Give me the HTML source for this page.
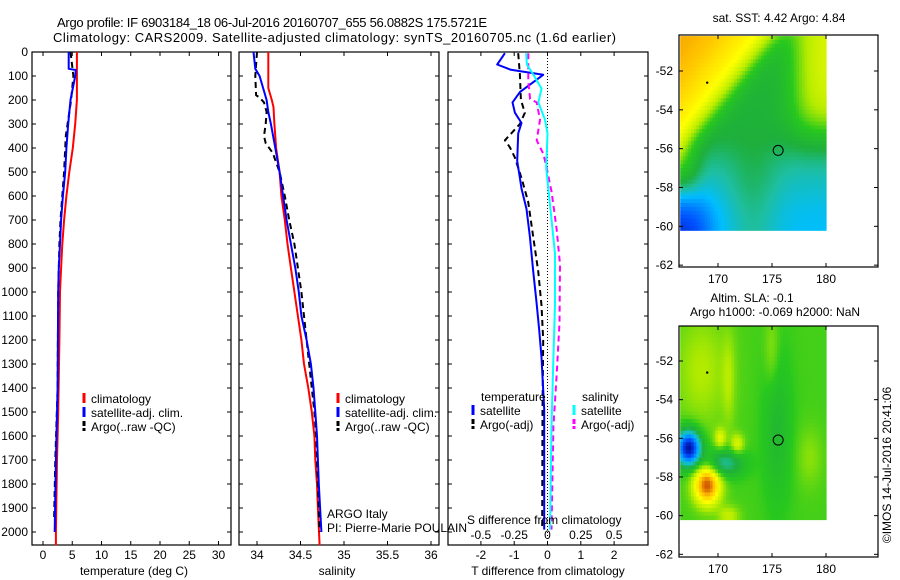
<!DOCTYPE html>
<html><head><meta charset="utf-8"><style>
html,body{margin:0;padding:0;background:#fff;}
svg{display:block;font-family:"Liberation Sans",sans-serif;}
</style></head><body>
<svg id="fig" width="900" height="580" viewBox="0 0 900 580">
<text x="57" y="27" font-size="13" textLength="430">Argo profile: IF 6903184_18 06-Jul-2016 20160707_655 56.0882S 175.5721E</text>
<text x="53" y="42" font-size="13" textLength="563">Climatology: CARS2009. Satellite-adjusted climatology: synTS_20160705.nc (1.6d earlier)</text>
<g id="p1"></g>
<g id="p2"></g>
<g id="p3"></g>
<g id="m1"></g>
<g id="m2"></g>
<text transform="translate(891,465) rotate(-90)" text-anchor="middle" font-size="12">©IMOS 14-Jul-2016 20:41:06</text>
</svg>
<script>
// ---- data ----
const depthTicks=[0,100,200,300,400,500,600,700,800,900,1000,1100,1200,1300,1400,1500,1600,1700,1800,1900,2000];
const tempTicks=[0,5,10,15,20,25,30];
const salTicks=[34,34.5,35,35.5,36];
const salTickLabels=["34","34.5","35","35.5","36"];
const tdiffTicks=[-2,-1,0,1,2];
const sdiffTicks=[-0.5,-0.25,0,0.25,0.5];
const sdiffTickLabels=["-0.5","-0.25","0","0.25","0.5"];
const tempClimDepth=[0,200,300,400,500,600,700,800,900,1000,1200,1500,1700,2000,2055];
const tempClim=[5.8,5.8,5.5,5.1,4.5,4.0,3.6,3.3,3.1,2.9,2.8,2.6,2.4,2.2,2.2];
const tempSatDepth=[0,70,75,100,200,300,400,500,600,700,800,900,1000,1400,1700,2000];
const tempSat=[4.4,4.4,5.6,5.5,4.7,4.3,4.0,3.8,3.4,3.1,2.9,2.7,2.6,2.5,2.2,2.0];
const tempArgoDepth=[0,100,200,350,500,600,700,800,900,1000,1400,1700,1950];
const tempArgo=[4.7,5.2,4.8,3.9,3.6,3.3,3.0,2.8,2.7,2.6,2.5,2.1,1.9];
const salClimDepth=[0,150,200,230,300,400,500,600,700,800,900,1000,1100,1200,1300,1400,1500,1600,1700,1800,1900,2055];
const salClim=[34.13,34.13,34.17,34.19,34.2,34.22,34.26,34.28,34.32,34.35,34.39,34.43,34.47,34.51,34.54,34.59,34.63,34.66,34.67,34.69,34.70,34.72];
const salSatDepth=[0,70,100,150,200,250,300,400,500,600,700,800,900,1000,1100,1200,1300,1400,1500,1600,1800,2000];
const salSat=[33.96,33.98,34.03,34.07,34.11,34.13,34.16,34.21,34.26,34.30,34.34,34.39,34.44,34.48,34.51,34.57,34.62,34.65,34.67,34.69,34.71,34.74];
const salArgoDepth=[0,100,180,190,210,250,300,350,380,420,500,600,700,800,900,1000,1100,1200,1300,1400,1500,1600,1800,2000];
const salArgo=[34.0,33.98,33.99,34.03,34.08,34.11,34.1,34.08,34.1,34.18,34.26,34.32,34.37,34.43,34.47,34.51,34.54,34.57,34.60,34.63,34.66,34.68,34.70,34.72];
const tdSatDepth=[5,52,74,95,167,210,253,296,339,454,525,569,654,770,913,1042,1158,1273,1488,1990];
const tdSat=[-1.28,-1.51,-1.1,-0.13,-0.83,-1.05,-0.98,-0.78,-0.88,-0.91,-0.83,-0.78,-0.63,-0.53,-0.43,-0.33,-0.25,-0.18,-0.1,-0.1];
const tdArgoDepth=[5,95,200,253,300,368,397,440,525,625,770,913,1056,1200,1500,1990];
const tdArgo=[-0.88,-0.83,-0.8,-0.68,-0.83,-1.28,-1.13,-0.98,-0.78,-0.58,-0.43,-0.28,-0.18,-0.13,-0.15,-0.16];
const sdSatDepth=[5,52,95,153,210,282,339,483,697,840,1056,1273,1560,1990];
const sdSat=[-0.16,-0.155,-0.106,-0.044,-0.069,-0.019,0,-0.01,0.03,0.056,0.056,0.044,0.03,0.019];
const sdArgoDepth=[5,124,196,210,282,368,425,483,583,741,885,1128,1343,1560,1990];
const sdArgo=[-0.144,-0.144,-0.131,-0.081,-0.056,-0.081,-0.031,-0.006,0.031,0.069,0.094,0.09,0.069,0.044,0.03];
const lonTicks=[170,175,180];
const latTicks=[-52,-54,-56,-58,-60,-62];
const argoLon=175.57, argoLat=-56.09;

const NS="http://www.w3.org/2000/svg";
function mk(parent,tag,attrs){const e=document.createElementNS(NS,tag);for(const k in attrs)e.setAttribute(k,attrs[k]);parent.appendChild(e);return e;}
const Y0=52,Y1=545;
const yD=d=>Y0+0.24*d;
const xT=t=>43+5.85*t;
const xS=s=>257+87*(s-34);
const xTD=t=>547.5+33.3*t;
const xSD=s=>547.5+133.2*s;

function frame(g,x0,x1,y0,y1,name){
  const r=mk(g,'rect',{x:x0,y:y0,width:x1-x0,height:y1-y0,fill:'none',stroke:'#000','stroke-width':1.2});
  
  
}
function line(g,xs,ds,xf,col,dash,name,w){
  const pts=xs.map((v,i)=>xf(v).toFixed(1)+','+yD(ds[i]).toFixed(1)).join(' ');
  const p=mk(g,'polyline',{points:pts,fill:'none',stroke:col,'stroke-width':w||2,'stroke-dasharray':dash||'none','stroke-linejoin':'round'});
  
  
}
function xticks(g,vals,labels,xf,x0,x1,ly,name){
  vals.forEach((v,i)=>{const x=xf(v);
    mk(g,'line',{x1:x,x2:x,y1:Y1,y2:Y1-4,stroke:'#000'});
    mk(g,'line',{x1:x,x2:x,y1:Y0,y2:Y0+4,stroke:'#000'});
    if(ly){const t=mk(g,'text',{x:x,y:ly,'font-size':12,'text-anchor':'middle'});t.textContent=labels[i];
      
      }
  });
}
function yticks(g,x0,x1,labels){
  depthTicks.forEach(d=>{const y=yD(d);
    mk(g,'line',{x1:x0,x2:x0+4,y1:y,y2:y,stroke:'#000'});
    mk(g,'line',{x1:x1,x2:x1-4,y1:y,y2:y,stroke:'#000'});
    if(labels){const t=mk(g,'text',{x:28,y:y+4,'font-size':12,'text-anchor':'end'});t.textContent=d;
      
      }
  });
}
function legendItem(g,x,y,col,label,dash){
  const l=mk(g,'line',{x1:x,x2:x,y1:y-10,y2:y,stroke:col,'stroke-width':3,'stroke-dasharray':dash||'none'});
  
  
  const t=mk(g,'text',{x:x+7,y:y,'font-size':12});t.textContent=label;
  
  
}
function txt(g,x,y,s,anchor,name){const t=mk(g,'text',{x:x,y:y,'font-size':12,'text-anchor':anchor||'start'});t.textContent=s;
  
  return t;}

// Panel 1
const p1=document.getElementById('p1');
frame(p1,32,231,Y0,Y1,'temperature-axes');
yticks(p1,32,231,true);
xticks(p1,tempTicks,tempTicks.map(String),xT,32,231,559,'temperature-tick-label');
line(p1,tempClim,tempClimDepth,xT,'#ff0000',null,'temperature-climatology-line');
line(p1,tempArgo,tempArgoDepth,xT,'#000','6,4','temperature-argo-line');
line(p1,tempSat,tempSatDepth,xT,'#0000ff',null,'temperature-satellite-line');
txt(p1,134,575,'temperature (deg C)','middle','x-axis-title-temperature');
legendItem(p1,84,403,'#ff0000','climatology');
legendItem(p1,84,417,'#0000ff','satellite-adj. clim.');
legendItem(p1,84,431,'#000','Argo(..raw -QC)','5,2');

// Panel 2
const p2=document.getElementById('p2');
frame(p2,239,439,Y0,Y1,'salinity-axes');
yticks(p2,239,439,false);
xticks(p2,salTicks,salTickLabels,xS,239,439,559,'salinity-tick-label');
line(p2,salClim,salClimDepth,xS,'#ff0000',null,'salinity-climatology-line');
line(p2,salArgo,salArgoDepth,xS,'#000','6,4','salinity-argo-line');
line(p2,salSat,salSatDepth,xS,'#0000ff',null,'salinity-satellite-line');
txt(p2,337,575,'salinity','middle','x-axis-title-salinity');
legendItem(p2,338,403,'#ff0000','climatology');
legendItem(p2,338,417,'#0000ff','satellite-adj. clim.');
legendItem(p2,338,431,'#000','Argo(..raw -QC)','5,2');
txt(p2,327,518,'ARGO Italy','start','institution-label');
txt(p2,327,532,'PI: Pierre-Marie POULAIN','start','pi-label');

// Panel 3
const p3=document.getElementById('p3');
frame(p3,448,648,Y0,Y1,'difference-axes');
yticks(p3,448,648,false);
xticks(p3,tdiffTicks,tdiffTicks.map(String),xTD,448,648,559,'tdiff-tick-label');
sdiffTicks.forEach((v,i)=>{txt(p3,xSD(v),539,sdiffTickLabels[i],'middle','sdiff-tick-label');});
mk(p3,'line',{x1:xTD(0),x2:xTD(0),y1:Y0,y2:Y1,stroke:'#000','stroke-dasharray':'1,2'});
line(p3,tdArgo,tdArgoDepth,xTD,'#000','6,4','tdiff-argo-line');
line(p3,tdSat,tdSatDepth,xTD,'#0000ff',null,'tdiff-satellite-line');
line(p3,sdArgo,sdArgoDepth,xSD,'#ff00ff','6,4','sdiff-argo-line');
line(p3,sdSat,sdSatDepth,xSD,'#00ffff',null,'sdiff-satellite-line');
txt(p3,548,575,'T difference from climatology','middle','x-axis-title-tdiff');
txt(p3,467,524,'S difference from climatology','start','x-axis-title-sdiff');
txt(p3,481,401,'temperature','start','legend-title-temperature');
legendItem(p3,473,415,'#0000ff','satellite');
legendItem(p3,473,429,'#000','Argo(-adj)','5,2');
txt(p3,582,401,'salinity','start','legend-title-salinity');
legendItem(p3,574,415,'#00ffff','satellite');
legendItem(p3,574,429,'#ff00ff','Argo(-adj)','5,2');

// Maps
const cstops=[[0,[0,0,140]],[0.15,[0,80,255]],[0.3,[0,190,255]],[0.38,[30,190,160]],[0.45,[30,175,60]],[0.55,[40,200,30]],[0.65,[180,235,0]],[0.76,[255,255,0]],[0.88,[255,190,0]],[1,[200,70,0]]];
function cmap(v){v=Math.max(0,Math.min(1,v));for(let i=1;i<cstops.length;i++){if(v<=cstops[i][0]){const a=cstops[i-1],b=cstops[i],f=(v-a[0])/(b[0]-a[0]);return 'rgb('+a[1].map((c,k)=>Math.round(c+(b[1][k]-c)*f)).join(',')+')';}}return 'rgb(200,70,0)';}
const g2=(lon,lat,lo,la,rx,ry)=>Math.exp(-(((lon-lo)/rx)**2+((lat-la)/(ry||rx))**2));
const sig=x=>1/(1+Math.exp(-x));
function sstField(lon,lat){
  const u=(lon-166.5)/13.5,w=(-50.2-lat)/9.9;
  let v=0.46;
  v+=0.32*sig((0.6-(w+0.95*u))*18);
  v+=0.12*sig((0.3-(w+u))*12);
  v+=0.25*sig((u-0.8)*16)*sig((0.48-w)*16);
  const band=Math.exp(-(((u-0.5)/0.18)**2));
  v-=0.11*sig((w-0.62)*16)*(1-0.7*band);
  v-=0.05*sig((w-0.85)*16);
  v-=0.22*sig((w-0.85)*16)*sig((0.18-u)*18);
  v+=0.2*sig((0.12-u)*25)*sig((w-0.6)*20)*sig((0.8-w)*20);
  return v;
}
function slaField(lon,lat){
  let v=0.57;
  v+=0.08*g2(lon,lat,168.5,-52.5,2.5,3);
  v+=0.06*g2(lon,lat,175,-51.5,0.7,2)+0.06*g2(lon,lat,171,-53,0.6,2.5);
  v-=0.08*g2(lon,lat,175.5,-55.5,1.3,4);
  v+=0.05*g2(lon,lat,178.5,-57,1.2,1.5);
  v-=0.55*g2(lon,lat,167.3,-56.5,1.1,0.9);
  v-=0.2*g2(lon,lat,170.5,-57.3,1.8,0.7);
  v+=0.42*g2(lon,lat,169,-58.4,1.2,1.0);
  v+=0.14*g2(lon,lat,170.2,-56,0.5,0.5)+0.14*g2(lon,lat,171.8,-56.3,0.6,0.5);
  v+=0.1*g2(lon,lat,171,-60,1,0.5);
  return v;
}
function drawMap(id,yTop,yBot,latRef,field,titles){
  const g=document.getElementById(id);
  const lx=lon=>718+(lon-170)*10.8;
  const ly=lat=>latRef+(-52-lat)*((yBot-yTop)/11.95);
  const cells=mk(g,'g',{});
  
  
  const dl=0.25,dt=0.2;
  for(let lon=166.5;lon<180;lon+=dl){for(let lat=-50.2;lat>-60.1;lat-=dt){
    mk(cells,'rect',{x:lx(lon).toFixed(1),y:ly(lat).toFixed(1),width:(dl*10.8+0.6).toFixed(1),height:(dt*(yBot-yTop)/11.95+0.6).toFixed(1),fill:cmap(field(lon+dl/2,lat-dt/2))});
  }}
  frame(g,679,878,yTop,yBot,'map-axes');
  lonTicks.forEach(l=>{const x=lx(l);mk(g,'line',{x1:x,x2:x,y1:yTop,y2:yTop+4,stroke:'#000'});mk(g,'line',{x1:x,x2:x,y1:yBot,y2:yBot-4,stroke:'#000'});
    txt(g,x,yBot+16,String(l),'middle','longitude-tick-label');});
  latTicks.forEach(l=>{const y=ly(l);mk(g,'line',{x1:679,x2:683,y1:y,y2:y,stroke:'#000'});mk(g,'line',{x1:878,x2:874,y1:y,y2:y,stroke:'#000'});
    txt(g,673,y+4,String(l),'end','latitude-tick-label');});
  const c=mk(g,'circle',{cx:lx(argoLon),cy:ly(argoLat),r:5,fill:'none',stroke:'#000'});
  
  
  mk(g,'circle',{cx:lx(169),cy:ly(-52.6),r:1.2,fill:'#000'});
  titles.forEach(t=>txt(g,t[0],t[1],t[2],'middle','map-title'));
}
drawMap('m1',35,267,71,sstField,[[779,22,'sat. SST: 4.42 Argo: 4.84']]);
drawMap('m2',326,557,361,slaField,[[752,302,'Altim. SLA: -0.1'],[775,316,'Argo h1000: -0.069 h2000: NaN']]);
</script>
</body></html>
